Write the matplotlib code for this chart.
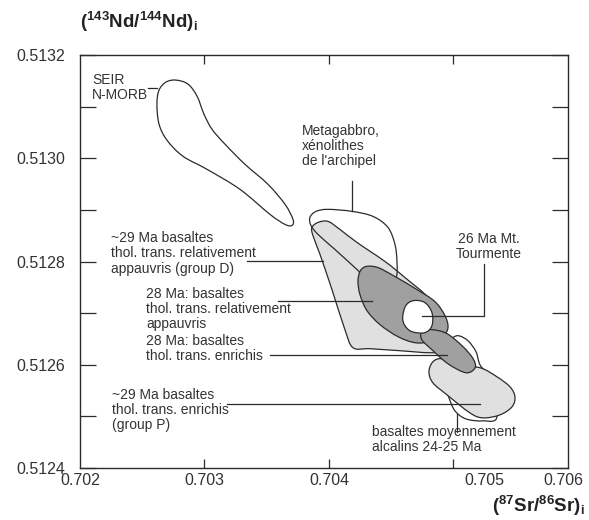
import numpy as np
import matplotlib
matplotlib.use('Agg')
import matplotlib.pyplot as plt
from matplotlib.path import Path
from matplotlib.patches import PathPatch

plt.rcParams['font.family'] = 'Liberation Sans'
plt.rcParams['mathtext.fontset'] = 'custom'
plt.rcParams['mathtext.rm'] = 'Liberation Sans'
plt.rcParams['mathtext.bf'] = 'Liberation Sans:bold'
plt.rcParams['mathtext.it'] = 'Liberation Sans:italic'

# field outlines, (87Sr/86Sr)i vs (143Nd/144Nd)i
seir_sr = [0.702771, 0.702867, 0.702940, 0.702996, 0.703060, 0.703165, 0.703325,
           0.703510, 0.703647, 0.703711, 0.703703, 0.703647, 0.703526, 0.703285,
           0.703020, 0.702827, 0.702699, 0.702635, 0.702618, 0.702635, 0.702691]
seir_nd = [0.5131514, 0.5131437, 0.5131204, 0.5130854, 0.5130563, 0.5130272, 0.5129883,
           0.5129495, 0.5129107, 0.5128815, 0.5128699, 0.5128718, 0.5128913, 0.5129398,
           0.5129786, 0.5130039, 0.5130349, 0.5130660, 0.5131048, 0.5131320, 0.5131476]

meta_sr = [0.703847, 0.703896, 0.703992, 0.704185, 0.704353, 0.704474, 0.704530, 0.704546,
           0.704538, 0.704450, 0.704329, 0.704225, 0.704048, 0.703912, 0.703855]
meta_nd = [0.5128854, 0.5128971, 0.5129010, 0.5128971, 0.5128874, 0.5128660, 0.5128330, 0.5128000,
           0.5127689, 0.5127553, 0.5127612, 0.5127845, 0.5128233, 0.5128524, 0.5128699]

grpD_sr = [0.703863, 0.703912, 0.703992, 0.704088, 0.704225, 0.704450, 0.704610, 0.704811, 0.704932,
           0.704892, 0.704811, 0.704570, 0.704329, 0.704193, 0.704128, 0.704024, 0.703928, 0.703871]
grpD_nd = [0.5128660, 0.5128757, 0.5128777, 0.5128621, 0.5128369, 0.5128000, 0.5127689, 0.5127262, 0.5126718,
           0.5126291, 0.5126233, 0.5126272, 0.5126311, 0.5126330, 0.5126680, 0.5127456, 0.5128136, 0.5128505]

appauv28_sr = [0.704249, 0.704297, 0.704393, 0.704530, 0.704707, 0.704851, 0.704932, 0.704956,
               0.704916, 0.704811, 0.704691, 0.704554, 0.704410, 0.704305, 0.704249, 0.704233]
appauv28_nd = [0.5127806, 0.5127903, 0.5127883, 0.5127709, 0.5127456, 0.5127223, 0.5126951, 0.5126718,
               0.5126563, 0.5126447, 0.5126427, 0.5126544, 0.5126777, 0.5127048, 0.5127359, 0.5127612]

enrich28_sr = [0.704746, 0.704827, 0.704948, 0.705077, 0.705158, 0.705174, 0.705100, 0.704956, 0.704827, 0.704746]
enrich28_nd = [0.5126641, 0.5126680, 0.5126602, 0.5126349, 0.5126116, 0.5125942, 0.5125845, 0.5126019, 0.5126291, 0.5126485]

tourm_sr = [0.704592, 0.704617, 0.704681, 0.704770, 0.704827, 0.704827, 0.704770, 0.704666, 0.704610]
tourm_nd = [0.5126913, 0.5127146, 0.5127243, 0.5127204, 0.5127010, 0.5126757, 0.5126621, 0.5126641, 0.5126757]

grpP_sr = [0.704835, 0.704908, 0.705028, 0.705213, 0.705349, 0.705454, 0.705494,
           0.705470, 0.705373, 0.705237, 0.705132, 0.704948, 0.704835, 0.704803]
grpP_nd = [0.5126058, 0.5126116, 0.5125981, 0.5125942, 0.5125767, 0.5125573, 0.5125379,
           0.5125184, 0.5125029, 0.5124971, 0.5125068, 0.5125417, 0.5125650, 0.5125864]

alcal_sr = [0.704972, 0.705036, 0.705116, 0.705181, 0.705213, 0.705293, 0.705349,
            0.705237, 0.705100, 0.705012, 0.704964, 0.704916, 0.704908, 0.704932]
alcal_nd = [0.5126485, 0.5126563, 0.5126466, 0.5126252, 0.5126000, 0.5125709, 0.5124990,
            0.5124913, 0.5124951, 0.5125107, 0.5125359, 0.5125709, 0.5126097, 0.5126369]

x_tick_labels = ['0.702', '0.703', '0.704', '0.705', '0.706']
x_label_pos = [0.702, 0.703, 0.704, 0.705245, 0.70588]
y_tick_labels = ['0.5124', '0.5126', '0.5128', '0.5130', '0.5132']

LINE = '#2b2b2b'
LIGHT = '#e0e0e0'
DARK = '#a0a0a0'


def smooth_path(xs, ys):
    # closed Catmull-Rom outline turned into cubic bezier segments
    p = np.column_stack([xs, ys])
    n = len(p)
    verts = [p[0]]
    codes = [Path.MOVETO]
    for i in range(n):
        p0, p1, p2, p3 = p[i - 1], p[i], p[(i + 1) % n], p[(i + 2) % n]
        verts += [p1 + (p2 - p0) / 6, p2 - (p3 - p1) / 6, p2]
        codes += [Path.CURVE4] * 3
    verts.append(p[0])
    codes.append(Path.CLOSEPOLY)
    return Path(verts, codes)


def field(ax, xs, ys, fc, z):
    ax.add_patch(PathPatch(smooth_path(xs, ys), facecolor=fc, edgecolor=LINE,
                           lw=0.9, zorder=z))


fig = plt.figure(figsize=(5.89, 5.20), dpi=100)
ax = fig.add_axes([80 / 589, 52 / 520, 488 / 589, 413 / 520])
ax.set_xlim(0.702, 0.70592)
ax.set_ylim(0.5124, 0.5132)

field(ax, seir_sr, seir_nd, 'white', 2)
field(ax, alcal_sr, alcal_nd, 'white', 1)
field(ax, grpD_sr, grpD_nd, LIGHT, 2)
field(ax, grpP_sr, grpP_nd, LIGHT, 2)
field(ax, meta_sr, meta_nd, 'none', 3)
field(ax, appauv28_sr, appauv28_nd, DARK, 4)
field(ax, enrich28_sr, enrich28_nd, DARK, 5)
field(ax, tourm_sr, tourm_nd, 'white', 6)

# leader lines
lk = dict(color=LINE, lw=0.9, zorder=7)
ax.plot([0.702546, 0.702618], [0.5131359, 0.5131359], **lk)
ax.plot([0.704185, 0.704185], [0.5129553, 0.5128971], **lk)
ax.plot([0.703341, 0.703952], [0.5128019, 0.5128019], **lk)
ax.plot([0.703590, 0.704345], [0.5127243, 0.5127243], **lk)
ax.plot([0.703526, 0.704948], [0.5126194, 0.5126194], **lk)
ax.plot([0.703181, 0.705213], [0.5125243, 0.5125243], **lk)
ax.plot([0.704747, 0.705245, 0.705245], [0.5126951, 0.5126951, 0.5127942], **lk)
ax.plot([0.705028, 0.705028], [0.5125049, 0.5124699], **lk)

tk = dict(fontsize=10, color='#333333', zorder=8, va='center', ha='left',
          linespacing=1.1)
ax.text(0.702096, 0.5131379, 'SEIR\nN-MORB', **tk)
ax.text(0.703783, 0.5130233, "Metagabbro,\nxénolithes\nde l'archipel", **tk)
ax.text(0.702249, 0.5128155, '~29 Ma basaltes\nthol. trans. relativement\nappauvris (group D)', **tk)
ax.text(0.702530, 0.5127087, '28 Ma: basaltes\nthol. trans. relativement\nappauvris', **tk)
ax.text(0.702530, 0.5126311, '28 Ma: basaltes\nthol. trans. enrichis', **tk)
ax.text(0.702257, 0.5125126, '~29 Ma basaltes\nthol. trans. enrichis\n(group P)', **tk)
ax.text(0.705285, 0.5128291, '26 Ma Mt.\nTourmente', fontsize=10, color='#333333',
        zorder=8, va='center', ha='center', multialignment='center', linespacing=1.1)
ax.text(0.704345, 0.5124544, 'basaltes moyennement\nalcalins 24-25 Ma', **tk)

# axes frame and ticks
for s in ax.spines.values():
    s.set_color(LINE)
    s.set_linewidth(1.0)

ax.set_yticks([0.5124, 0.5126, 0.5128, 0.5130, 0.5132], labels=y_tick_labels)
ax.set_yticks([0.5125, 0.5127, 0.5129, 0.5131], minor=True)
ax.tick_params(axis='y', which='both', direction='in', left=True, right=True,
               length=11.5, width=0.9, color=LINE)
ax.tick_params(axis='y', which='major', labelsize=11.5, pad=10.5, labelcolor='#333333')

ax.xaxis.remove_overlapping_locs = False
ax.set_xticks([0.703, 0.704, 0.705], labels=['', '', ''])
ax.set_xticks(x_label_pos, labels=x_tick_labels, minor=True)
ax.tick_params(axis='x', which='major', direction='in', top=True, bottom=True,
               length=6.5, width=0.9, color=LINE)
ax.tick_params(axis='x', which='minor', length=0, labelsize=11.5, pad=3.6,
               labelcolor='#333333')

fig.text(80 / 589, 1 - 28 / 520, r'$\mathbf{(^{143}Nd/^{144}Nd)_i}$', fontsize=13.5,
         ha='left', va='baseline', color='#222222')
fig.text(585 / 589, 1 - 512 / 520, r'$\mathbf{(^{87}Sr/^{86}Sr)_i}$', fontsize=13.5,
         ha='right', va='baseline', color='#222222')

fig.savefig('out.png', dpi=100)
